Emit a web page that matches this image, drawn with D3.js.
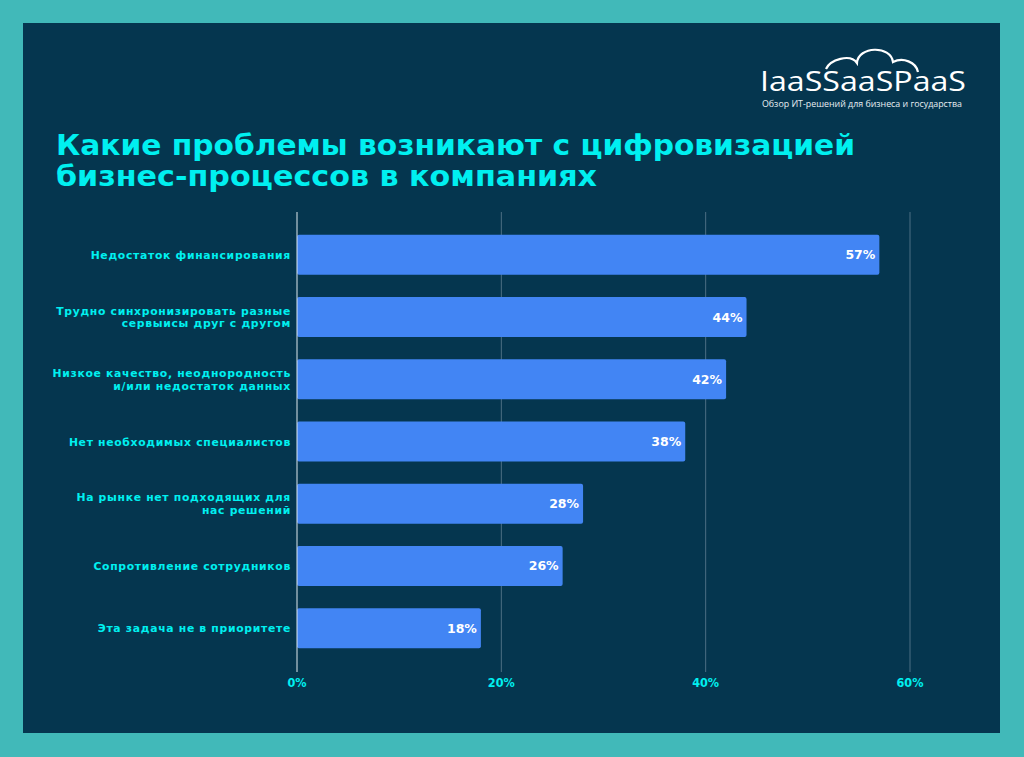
<!DOCTYPE html>
<html><head><meta charset="utf-8">
<script src="https://cdn.jsdelivr.net/npm/d3@7"></script>
<style>html,body{margin:0;padding:0;background:#41b9b9;}svg{display:block;}</style>
</head><body>
<svg id="c" width="1024" height="757"></svg>
<script>
const categories = [
  ["Недостаток финансирования"],
  ["Трудно синхронизировать разные", "сервыисы друг с другом"],
  ["Низкое качество, неоднородность", "и/или недостаток данных"],
  ["Нет необходимых специалистов"],
  ["На рынке нет подходящих для", "нас решений"],
  ["Сопротивление сотрудников"],
  ["Эта задача не в приоритете"]
];
const values = [57, 44, 42, 38, 28, 26, 18];
const ticks = [0, 20, 40, 60];
const titleLines = ["Какие проблемы возникают с цифровизацией", "бизнес-процессов в компаниях"];

const svg = d3.select("#c");
svg.append("rect").attr("x",0).attr("y",0).attr("width",1024).attr("height",757).attr("fill","#41b9b9");
svg.append("rect").attr("x",23).attr("y",23).attr("width",977).attr("height",710).attr("fill","#05364f");

// title
const titleLen = [799, 541];
const title = svg.append("text").attr("font-family","DejaVu Sans, Verdana, sans-serif")
  .attr("font-weight","bold").attr("font-size",28).attr("fill","#00f0f0");
titleLines.forEach((t,i)=>title.append("tspan").attr("x",56).attr("y",155+i*31)
  .attr("textLength",titleLen[i]).attr("lengthAdjust","spacingAndGlyphs").text(t));

// logo
const logo = svg.append("g");
logo.append("path").attr("d","M826,69 C830,60 850,53 857,63 C858,46 891,45 893,62 C903,57 916,62 918,72")
  .attr("fill","none").attr("stroke","#ffffff").attr("stroke-width",2.2);
logo.append("text").attr("x",760).attr("y",91).attr("font-family","Open Sans, DejaVu Sans, sans-serif")
  .attr("font-size",28).attr("fill","#ffffff").attr("textLength",206).attr("lengthAdjust","spacingAndGlyphs").text("IaaSSaaSPaaS");
logo.append("text").attr("x",762).attr("y",107).attr("font-family","Open Sans, DejaVu Sans, sans-serif")
  .attr("font-size",9).attr("fill","#e8eef2").attr("textLength",200).attr("lengthAdjust","spacingAndGlyphs").text("Обзор ИТ-решений для бизнеса и государства");

// scales
const x = d3.scaleLinear().domain([0,60]).range([297,910]);
const y = d3.scaleBand().domain(d3.range(values.length)).range([224,660]).paddingInner(0.355).paddingOuter(0.18);

// gridlines
svg.append("g").selectAll("line").data(ticks.slice(1)).join("line")
  .attr("x1",d=>x(d)).attr("x2",d=>x(d)).attr("y1",212).attr("y2",672)
  .attr("stroke","#4d6f84").attr("stroke-width",1);

// bars
svg.append("g").selectAll("rect").data(values).join("rect")
  .attr("x",x(0)).attr("y",(d,i)=>y(i)-0.5).attr("width",d=>x(d)-x(0)).attr("height",y.bandwidth())
  .attr("rx",2).attr("fill","#4285f4");

// axis line
svg.append("line").attr("x1",x(0)).attr("x2",x(0)).attr("y1",212).attr("y2",672).attr("stroke","#dfe8ee").attr("stroke-width",1);

// value labels
svg.append("g").selectAll("text").data(values).join("text")
  .attr("x",d=>x(d)-4).attr("y",(d,i)=>y(i)+y.bandwidth()/2+4)
  .attr("text-anchor","end").attr("font-family","DejaVu Sans, Verdana, sans-serif").attr("font-weight","bold")
  .attr("font-size",12.5).attr("fill","#ffffff").text(d=>d+"%");

// category labels
const cl = svg.append("g").selectAll("text").data(categories).join("text")
  .attr("text-anchor","end").attr("font-family","DejaVu Sans, Verdana, sans-serif").attr("font-weight","bold")
  .attr("font-size",10.8).attr("letter-spacing",0.7).attr("fill","#00f0f0");
cl.each(function(lines,i){
  const cy = y(i)+y.bandwidth()/2;
  const lh = 12.5;
  const start = cy - (lines.length-1)*lh/2 + 3.5;
  lines.forEach((l,j)=>d3.select(this).append("tspan").attr("x",291).attr("y",start+j*lh).text(l));
});

// x tick labels
svg.append("g").selectAll("text").data(ticks).join("text")
  .attr("x",d=>x(d)).attr("y",687).attr("text-anchor","middle")
  .attr("font-family","DejaVu Sans Condensed, DejaVu Sans, sans-serif").attr("font-weight","bold")
  .attr("font-size",12.5).attr("fill","#00f0f0").text(d=>d+"%");
</script>
</body></html>
